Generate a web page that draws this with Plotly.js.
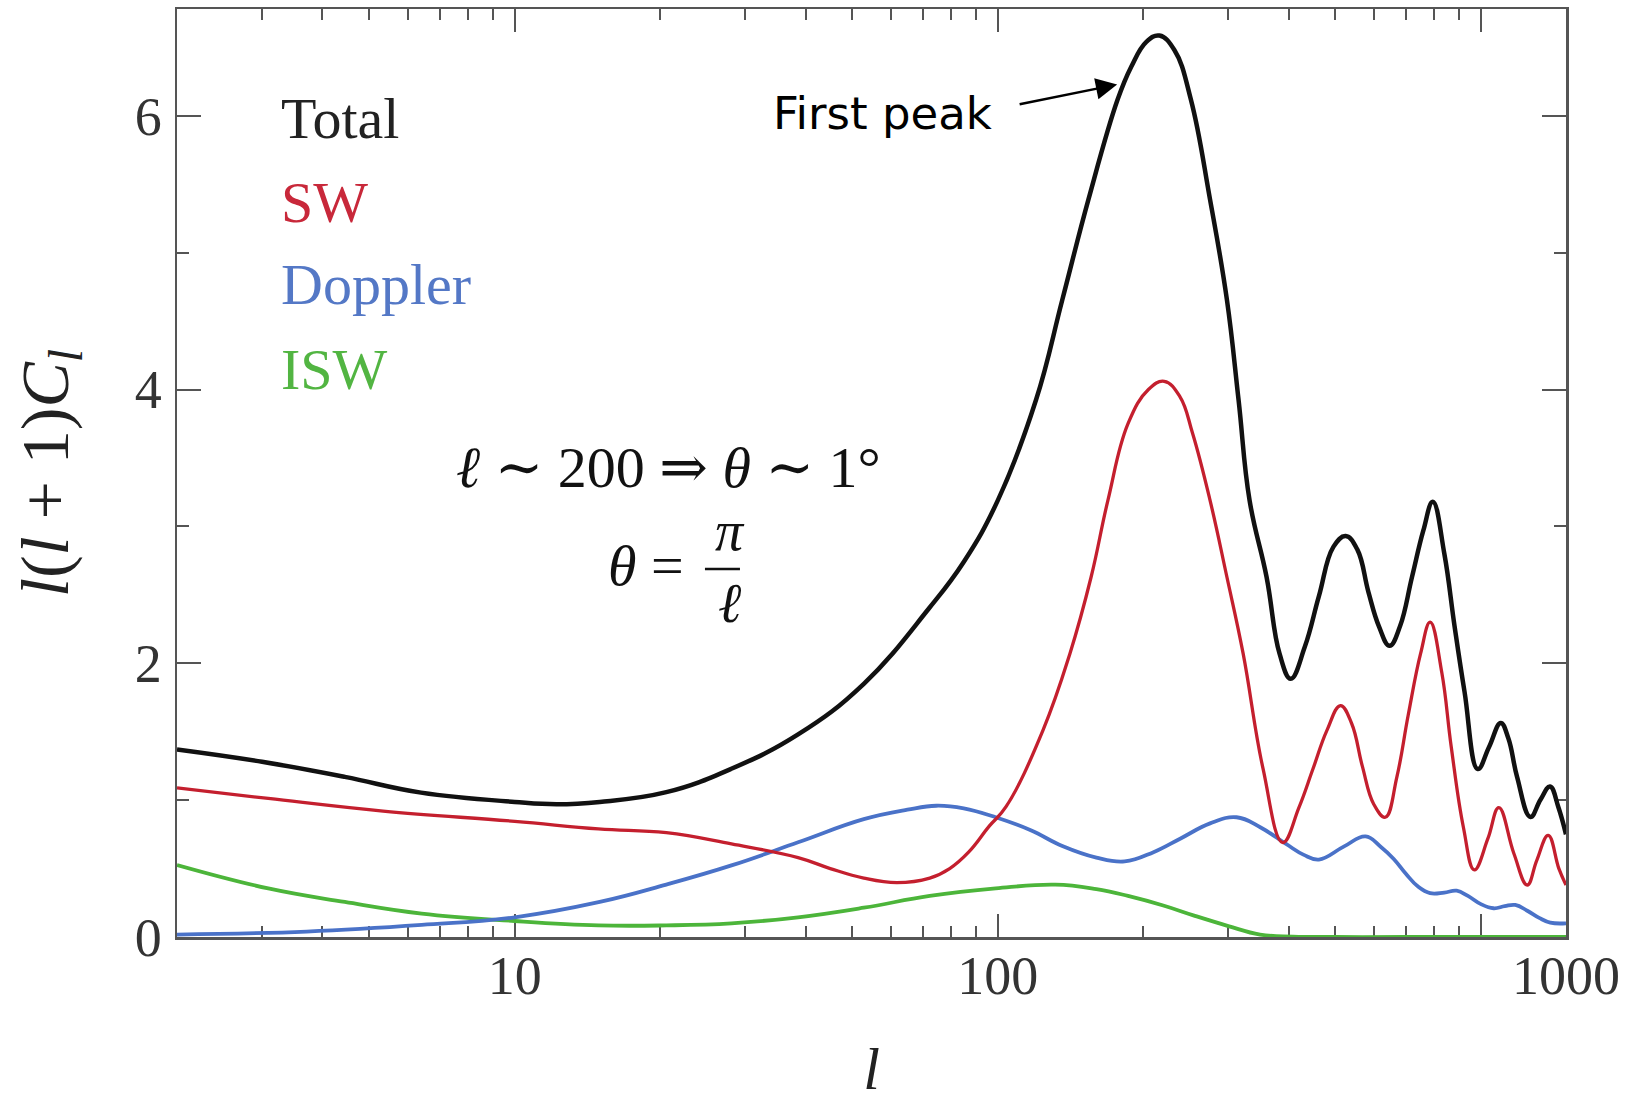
<!DOCTYPE html>
<html>
<head>
<meta charset="utf-8">
<script src="https://cdn.plot.ly/plotly-3.0.1.min.js"></script>
<style>html,body{margin:0;padding:0;background:#fff;}#chart{width:1636px;height:1102px;}</style>
</head>
<body>
<div id="chart"></div>
<script>
// ---- data (multipole l, l(l+1)C_l) ----
const ellTotal = [2, 3, 4.45, 6.4, 10, 12.2, 15, 20.6, 28, 38.6, 52.8, 72, 85, 100, 120, 136, 154, 177, 189, 203, 216, 232, 251, 275, 298, 315, 332, 360, 383, 404, 432, 462, 495, 525, 555, 585, 615, 647, 680, 720, 760, 795, 840, 882, 925, 985, 1040, 1099, 1140, 1188, 1266, 1328, 1390, 1446, 1500];
const totalVals = [1.37, 1.28, 1.17, 1.055, 0.987, 0.97, 0.987, 1.058, 1.227, 1.48, 1.85, 2.40, 2.74, 3.19, 3.925, 4.656, 5.387, 6.118, 6.36, 6.54, 6.586, 6.48, 6.118, 5.387, 4.656, 3.925, 3.19, 2.63, 2.07, 1.887, 2.12, 2.49, 2.85, 2.93, 2.83, 2.52, 2.27, 2.127, 2.27, 2.63, 2.97, 3.18, 2.80, 2.27, 1.79, 1.227, 1.39, 1.564, 1.45, 1.17, 0.877, 1.003, 1.10, 0.95, 0.75];

const ellSW = [2, 3.09, 5.34, 10, 14.9, 20.6, 28.1, 38.6, 45, 52.8, 61.8, 72.3, 79.5, 87, 96, 104, 124, 141, 156, 169, 186, 205, 221, 238, 253, 275, 298, 322, 354, 389, 420, 449, 480, 512, 540, 568, 600, 634, 670, 707, 750, 785, 830, 868, 920, 969, 1034, 1089, 1170, 1247, 1305, 1378, 1450, 1500];
const swVals = [1.089, 1.012, 0.92, 0.845, 0.79, 0.762, 0.68, 0.58, 0.50, 0.43, 0.397, 0.43, 0.50, 0.62, 0.81, 0.952, 1.51, 2.07, 2.63, 3.19, 3.75, 4.0, 4.06, 3.95, 3.68, 3.19, 2.63, 2.07, 1.23, 0.69, 0.945, 1.227, 1.51, 1.69, 1.56, 1.25, 0.97, 0.875, 1.17, 1.62, 2.07, 2.30, 1.93, 1.39, 0.80, 0.49, 0.72, 0.945, 0.61, 0.38, 0.56, 0.743, 0.50, 0.38];

const ellDoppler = [2, 3.71, 6.42, 10, 15, 20.6, 28.1, 38.6, 52.8, 65, 74.6, 85, 99, 117, 136, 160, 183, 210, 239, 275, 312, 350, 395, 430, 462, 520, 577, 620, 660, 700, 740, 785, 840, 891, 940, 1000, 1062, 1120, 1178, 1250, 1320, 1392, 1500];
const dopplerVals = [0.018, 0.04, 0.088, 0.144, 0.256, 0.383, 0.523, 0.692, 0.861, 0.93, 0.959, 0.94, 0.875, 0.78, 0.665, 0.58, 0.552, 0.62, 0.72, 0.83, 0.875, 0.80, 0.68, 0.60, 0.566, 0.66, 0.735, 0.66, 0.57, 0.46, 0.37, 0.32, 0.325, 0.338, 0.30, 0.24, 0.21, 0.225, 0.234, 0.19, 0.14, 0.105, 0.10];

const ellISW = [2, 3.09, 4.45, 6.42, 10, 14.9, 20.6, 28.1, 38.6, 52.8, 72.3, 99, 131.5, 160, 186, 220, 254, 300, 349, 408, 500, 700, 1000, 1500];
const iswVals = [0.526, 0.355, 0.256, 0.171, 0.117, 0.085, 0.085, 0.10, 0.144, 0.214, 0.30, 0.355, 0.383, 0.35, 0.30, 0.23, 0.158, 0.08, 0.018, 0.003, 0, 0, 0, 0];

const xMajorTicks = [10, 100, 1000];
const xMajorText = ['10', '100', ''];
const xMinorTicks = [3, 4, 5, 6, 7, 8, 9, 20, 30, 40, 50, 60, 70, 80, 90, 200, 300, 400, 500, 600, 700, 800, 900];
const yMajorTicks = [0, 2, 4, 6];
const yMinorTicks = [1, 3, 5];

const seriesNames = ['Total', 'SW', 'Doppler', 'ISW'];
const seriesColors = {Total: '#111111', SW: '#c41f2e', Doppler: '#4a72c8', ISW: '#4cb53a'};
const labelColors = {Total: '#222222', SW: '#c8283a', Doppler: '#5478c6', ISW: '#52b542'};

const serif = 'Liberation Serif, DejaVu Serif, serif';
const axisColor = '#555555';
const sm = 1.2;

const traces = [
  {x: ellISW, y: iswVals, name: 'ISW', mode: 'lines', line: {color: seriesColors.ISW, width: 3.8, shape: 'spline', smoothing: sm}},
  {x: ellDoppler, y: dopplerVals, name: 'Doppler', mode: 'lines', line: {color: seriesColors.Doppler, width: 3.8, shape: 'spline', smoothing: sm}},
  {x: ellSW, y: swVals, name: 'SW', mode: 'lines', line: {color: seriesColors.SW, width: 3.3, shape: 'spline', smoothing: sm}},
  {x: ellTotal, y: totalVals, name: 'Total', mode: 'lines', line: {color: seriesColors.Total, width: 4.5, shape: 'spline', smoothing: sm}}
];

const labelY = {Total: 0.882, SW: 0.791, Doppler: 0.7026, ISW: 0.612};
const annotations = seriesNames.map(n => ({
  xref: 'paper', yref: 'paper', x: 0.0734, y: labelY[n], xanchor: 'left', yanchor: 'middle',
  text: n, showarrow: false, font: {family: serif, size: 58, color: labelColors[n]}
}));

annotations.push(
  {xref: 'paper', yref: 'paper', x: 0.3535, y: 0.5054, xanchor: 'center', yanchor: 'middle', showarrow: false,
   text: '<i>ℓ</i> ∼ 200 ⇒ <i>θ</i> ∼ 1°', font: {family: serif, size: 58, color: '#111'}},
  {xref: 'paper', yref: 'paper', x: 0.3765, y: 0.3998, xanchor: 'right', yanchor: 'middle', showarrow: false,
   text: '<i>θ</i> = ', font: {family: serif, size: 58, color: '#111'}},
  {xref: 'paper', yref: 'paper', x: 0.3978, y: 0.4375, xanchor: 'center', yanchor: 'middle', showarrow: false,
   text: '<i>π</i>', font: {family: serif, size: 56, color: '#111'}},
  {xref: 'paper', yref: 'paper', x: 0.3978, y: 0.3599, xanchor: 'center', yanchor: 'middle', showarrow: false,
   text: '<i>ℓ</i>', font: {family: serif, size: 56, color: '#111'}},
  {xref: 'paper', yref: 'paper', x: 0.508, y: 0.8869, xanchor: 'center', yanchor: 'middle', showarrow: false,
   text: 'First peak', font: {family: 'DejaVu Sans, sans-serif', size: 45, color: '#000'}},
  {xref: 'x', yref: 'y', x: Math.log10(176.6), y: 6.228, ax: -99, ay: 20, text: '', showarrow: true,
   arrowhead: 2, arrowsize: 1.7, arrowwidth: 2.5, arrowcolor: '#000', standoff: 0, startstandoff: 0},
  {xref: 'paper', yref: 'paper', x: 1, y: 0, yshift: -39, xanchor: 'center', yanchor: 'middle', showarrow: false,
   text: '1000', font: {family: serif, size: 54, color: '#333'}}
);

const layout = {
  width: 1636, height: 1102,
  margin: {l: 177, r: 70, t: 9, b: 165, pad: 0},
  paper_bgcolor: '#ffffff', plot_bgcolor: '#ffffff',
  showlegend: false,
  xaxis: {
    type: 'log', range: [Math.log10(2), Math.log10(1500)],
    tickmode: 'array', tickvals: xMajorTicks, ticktext: xMajorText,
    ticks: 'inside', ticklen: 23, tickwidth: 2, tickcolor: axisColor,
    minor: {tickmode: 'array', tickvals: xMinorTicks, ticks: 'inside', ticklen: 11, tickwidth: 2, tickcolor: axisColor, showgrid: false},
    showline: true, linecolor: axisColor, linewidth: 2.5, mirror: 'ticks',
    showgrid: false, zeroline: false, layer: 'below traces',
    tickfont: {family: serif, size: 54, color: '#333'}, ticklabelstandoff: -10,
    title: {text: '<i>l</i>', font: {family: serif, size: 60, color: '#222'}, standoff: 57}
  },
  yaxis: {
    range: [0, 6.78],
    tickmode: 'array', tickvals: yMajorTicks, ticktext: yMajorTicks.map(String),
    ticks: 'inside', ticklen: 24, tickwidth: 2, tickcolor: axisColor,
    minor: {tickmode: 'array', tickvals: yMinorTicks, ticks: 'inside', ticklen: 12, tickwidth: 2, tickcolor: axisColor, showgrid: false},
    showline: true, linecolor: axisColor, linewidth: 2.5, mirror: 'ticks',
    showgrid: false, zeroline: false, layer: 'below traces',
    tickfont: {family: serif, size: 54, color: '#333'}, ticklabelstandoff: 2,
    title: {text: '<i>l</i>(<i>l</i> + 1)<i>C<sub>l</sub></i>', font: {family: serif, size: 68, color: '#222'}, standoff: 44}
  },
  shapes: [
    {type: 'line', xref: 'paper', yref: 'paper', x0: 0.3801, x1: 0.4053, y0: 0.3966, y1: 0.3966, line: {color: '#111', width: 2.5}}
  ],
  annotations: annotations
};

Plotly.newPlot('chart', traces, layout, {staticPlot: true, displayModeBar: false});
</script>
</body>
</html>
